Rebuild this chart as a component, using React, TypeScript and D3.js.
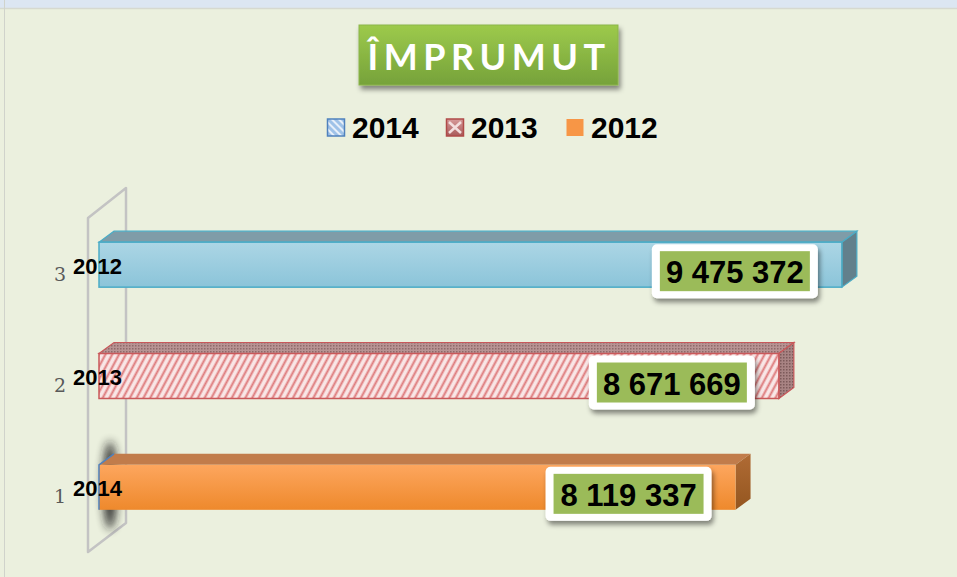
import React, { useEffect, useRef } from "react";
import * as d3 from "d3";

const categories = ["1", "2", "3"];
const values = [8119337, 8671669, 9475372];
const barLabels = ["2014", "2013", "2012"];
const legendLabels = ["2014", "2013", "2012"];
const title = "ÎMPRUMUT";

const W = 957;
const H = 577;
const DX = 15; // depth of the 3D bars
const DY = 11;

const fmt = d3
  .formatLocale({ decimal: ",", thousands: " ", grouping: [3], currency: ["", ""] })
  .format(",");

// face styles per category (1 = orange, 2 = red hatch, 3 = blue)
const faces: Record<string, { front: string; top: string; side: string; stroke: string }> = {
  "1": { front: "url(#gOrange)", top: "#c17c4b", side: "url(#gOrangeSide)", stroke: "none" },
  "2": { front: "url(#pRedHatch)", top: "url(#pRedDots)", side: "url(#pRedSide)", stroke: "#c9585a" },
  "3": { front: "url(#gBlue)", top: "#7f9ca8", side: "#62808c", stroke: "#4bacc6" },
};

function App() {
  const ref = useRef<SVGSVGElement>(null);

  useEffect(() => {
    const svg = d3.select(ref.current);
    svg.selectAll("*").remove();

    const x = d3.scaleLinear().domain([0, 10000000]).range([99, 883]);
    const y = d3
      .scaleBand<string>()
      .domain(["3", "2", "1"])
      .range([209, 543])
      .paddingInner(0.596)
      .paddingOuter(0.298);

    const defs = svg.append("defs");

    const grad = (id: string, c0: string, c1: string) => {
      const g = defs
        .append("linearGradient")
        .attr("id", id)
        .attr("x1", 0)
        .attr("y1", 0)
        .attr("x2", 0)
        .attr("y2", 1);
      g.append("stop").attr("offset", "0%").attr("stop-color", c0);
      g.append("stop").attr("offset", "100%").attr("stop-color", c1);
    };
    grad("gBlue", "#acd6e5", "#8bc4d9");
    grad("gOrange", "#fda65e", "#ee892c");
    grad("gOrangeSide", "#b06b35", "#94561f");
    grad("gTitle", "#9dca4c", "#76a23a");
    grad("gRedLeg", "#d79a9a", "#a85a5a");

    // red diagonal hatch
    const ph = defs
      .append("pattern")
      .attr("id", "pRedHatch")
      .attr("patternUnits", "userSpaceOnUse")
      .attr("width", 6)
      .attr("height", 6)
      .attr("patternTransform", "rotate(28)");
    ph.append("rect").attr("width", 6).attr("height", 6).attr("fill", "#f9e6e6");
    ph.append("line")
      .attr("x1", 1.5)
      .attr("x2", 1.5)
      .attr("y1", 0)
      .attr("y2", 6)
      .attr("stroke", "#de7a7b")
      .attr("stroke-width", 2);

    const dots = (id: string, bg: string, fg: string) => {
      const p = defs
        .append("pattern")
        .attr("id", id)
        .attr("patternUnits", "userSpaceOnUse")
        .attr("width", 3)
        .attr("height", 3);
      p.append("rect").attr("width", 3).attr("height", 3).attr("fill", bg);
      p.append("rect").attr("width", 1.5).attr("height", 1.5).attr("fill", fg);
    };
    dots("pRedDots", "#b89393", "#8e6a6a");
    dots("pRedSide", "#a88383", "#7c5a5a");

    // legend pattern for 2014
    const pb = defs
      .append("pattern")
      .attr("id", "pBlueLeg")
      .attr("patternUnits", "userSpaceOnUse")
      .attr("width", 5)
      .attr("height", 5)
      .attr("patternTransform", "rotate(45)");
    pb.append("rect").attr("width", 5).attr("height", 5).attr("fill", "#9fc2e8");
    pb.append("line").attr("x1", 0).attr("x2", 5).attr("y1", 1).attr("y2", 1).attr("stroke", "#ffffff").attr("stroke-width", 1.5);

    const shadow = defs.append("filter").attr("id", "fShadow").attr("x", "-20%").attr("y", "-20%").attr("width", "150%").attr("height", "160%");
    shadow.append("feDropShadow").attr("dx", 2).attr("dy", 4).attr("stdDeviation", 2.5).attr("flood-color", "#000").attr("flood-opacity", 0.45);
    const blur = defs.append("filter").attr("id", "fBlur").attr("x", "-150%").attr("y", "-50%").attr("width", "400%").attr("height", "200%");
    blur.append("feGaussianBlur").attr("stdDeviation", 5);

    // background
    svg.append("rect").attr("width", W).attr("height", H).attr("fill", "#ebf0de");
    svg.append("rect").attr("width", W).attr("height", 8).attr("fill", "#dce6f2");
    svg.append("line").attr("x1", 0).attr("x2", W).attr("y1", 8.5).attr("y2", 8.5).attr("stroke", "#d6d9d0").attr("stroke-width", 1.5);
    svg.append("line").attr("x1", 4.5).attr("x2", 4.5).attr("y1", 0).attr("y2", H).attr("stroke", "#d0d3cb").attr("stroke-width", 1);

    // title
    svg.append("rect")
      .attr("x", 359)
      .attr("y", 25)
      .attr("width", 259)
      .attr("height", 60)
      .attr("fill", "url(#gTitle)")
      .attr("stroke", "#8cb54a")
      .attr("filter", "url(#fShadow)");
    svg.append("text")
      .attr("x", 489)
      .attr("y", 70)
      .attr("text-anchor", "middle")
      .attr("fill", "#fff")
      .style("font-family", "Lato, 'Open Sans', sans-serif")
      .style("font-weight", "bold")
      .style("font-size", "36px")
      .style("letter-spacing", "5.5px")
      .text(title);

    // legend
    const legX = [327, 446, 566];
    const legFill = ["url(#pBlueLeg)", "url(#gRedLeg)", "#f79646"];
    const legStroke = ["#4f81bd", "#b04a48", "none"];
    const leg = svg.append("g").selectAll("g").data(legendLabels).join("g")
      .attr("transform", (d, i) => `translate(${legX[i]},0)`);
    leg.append("rect")
      .attr("x", 0.5)
      .attr("y", 119)
      .attr("width", 17)
      .attr("height", 17)
      .attr("fill", (d, i) => legFill[i])
      .attr("stroke", (d, i) => legStroke[i])
      .attr("stroke-width", 1.5);
    leg.filter((d, i) => i === 1)
      .append("path")
      .attr("d", "M3,122L15,133M15,122L3,133")
      .attr("stroke", "#f3dede")
      .attr("stroke-width", 2.5);
    leg.append("text")
      .attr("x", 25)
      .attr("y", 138)
      .style("font-family", "Arial, 'Liberation Sans', sans-serif")
      .style("font-weight", "bold")
      .style("font-size", "30px")
      .attr("fill", "#000")
      .text((d) => d);

    // 3D wall
    svg.append("path")
      .attr("d", "M88,552L88,218L126,188L126,523Z")
      .attr("fill", "none")
      .attr("stroke", "#c3c3c3")
      .attr("stroke-width", 2.5)
      .attr("stroke-linejoin", "round");

    // soft shadow on the wall near the first bar
    svg.append("ellipse")
      .attr("cx", 110)
      .attr("cy", (y("1") ?? 0) + y.bandwidth() / 2 - 2)
      .attr("rx", 7)
      .attr("ry", 44)
      .attr("fill", "#1a1a1a")
      .attr("opacity", 0.9)
      .attr("filter", "url(#fBlur)");

    // bars
    const bw = y.bandwidth();
    const x0 = x(0);
    const bars = svg.append("g").selectAll("g").data(categories).join("g");

    bars.append("path")
      .attr("d", (c, i) => {
        const yy = y(c) ?? 0;
        const x1 = x(values[i]);
        return `M${x0},${yy}L${x0 + DX},${yy - DY}L${x1 + DX},${yy - DY}L${x1},${yy}Z`;
      })
      .attr("fill", (c) => faces[c].top)
      .attr("stroke", (c) => faces[c].stroke)
      .attr("stroke-width", 1.2);

    bars.append("path")
      .attr("d", (c, i) => {
        const yy = y(c) ?? 0;
        const x1 = x(values[i]);
        return `M${x1},${yy}L${x1 + DX},${yy - DY}L${x1 + DX},${yy + bw - DY}L${x1},${yy + bw}Z`;
      })
      .attr("fill", (c) => faces[c].side)
      .attr("stroke", (c) => faces[c].stroke)
      .attr("stroke-width", 1.2);

    bars.append("rect")
      .attr("x", x0)
      .attr("y", (c) => y(c) ?? 0)
      .attr("width", (c, i) => x(values[i]) - x0)
      .attr("height", bw)
      .attr("fill", (c) => faces[c].front)
      .attr("stroke", (c) => faces[c].stroke)
      .attr("stroke-width", 1.5);

    // blue edge on the orange bar
    bars.filter((c) => c === "1")
      .append("path")
      .attr("d", (c) => {
        const yy = y(c) ?? 0;
        return `M${x0},${yy + bw}L${x0},${yy}L${x0 + DX},${yy - DY}`;
      })
      .attr("fill", "none")
      .attr("stroke", "#4f81bd")
      .attr("stroke-width", 1.5);

    // category tick labels
    svg.append("g").selectAll("text").data(categories).join("text")
      .attr("x", 60)
      .attr("y", (c) => (y(c) ?? 0) + bw / 2 + 16)
      .attr("text-anchor", "middle")
      .attr("fill", "#595959")
      .style("font-family", "'DejaVu Serif', 'Liberation Serif', serif")
      .style("font-size", "19px")
      .text((c) => c);

    // labels inside bars
    svg.append("g").selectAll("text").data(categories).join("text")
      .attr("x", 73)
      .attr("y", (c) => (y(c) ?? 0) + bw / 2 + 9)
      .attr("fill", "#000")
      .style("font-family", "Arial, 'Liberation Sans', sans-serif")
      .style("font-weight", "bold")
      .style("font-size", "22px")
      .text((c, i) => barLabels[i]);

    // value boxes
    const boxW = 166;
    const boxH = 54;
    const vb = svg.append("g").selectAll("g").data(categories).join("g")
      .attr("transform", (c, i) => `translate(${x(values[i]) - 24 - boxW},${(y(c) ?? 0) + 2})`);
    vb.append("rect")
      .attr("width", boxW)
      .attr("height", boxH)
      .attr("rx", 5)
      .attr("fill", "#fff")
      .attr("filter", "url(#fShadow)");
    vb.append("rect")
      .attr("x", 8)
      .attr("y", 7)
      .attr("width", boxW - 16)
      .attr("height", boxH - 14)
      .attr("fill", "#9bbb59");
    vb.append("text")
      .attr("x", boxW / 2)
      .attr("y", 39)
      .attr("text-anchor", "middle")
      .attr("fill", "#000")
      .style("font-family", "Arial, 'Liberation Sans', sans-serif")
      .style("font-weight", "bold")
      .style("font-size", "31px")
      .text((c, i) => fmt(values[i]));
  }, []);

  return (
    <>
      <style>{"body{margin:0}"}</style>
      <svg ref={ref} width={W} height={H} style={{ display: "block" }}></svg>
    </>
  );
}

export default App;
